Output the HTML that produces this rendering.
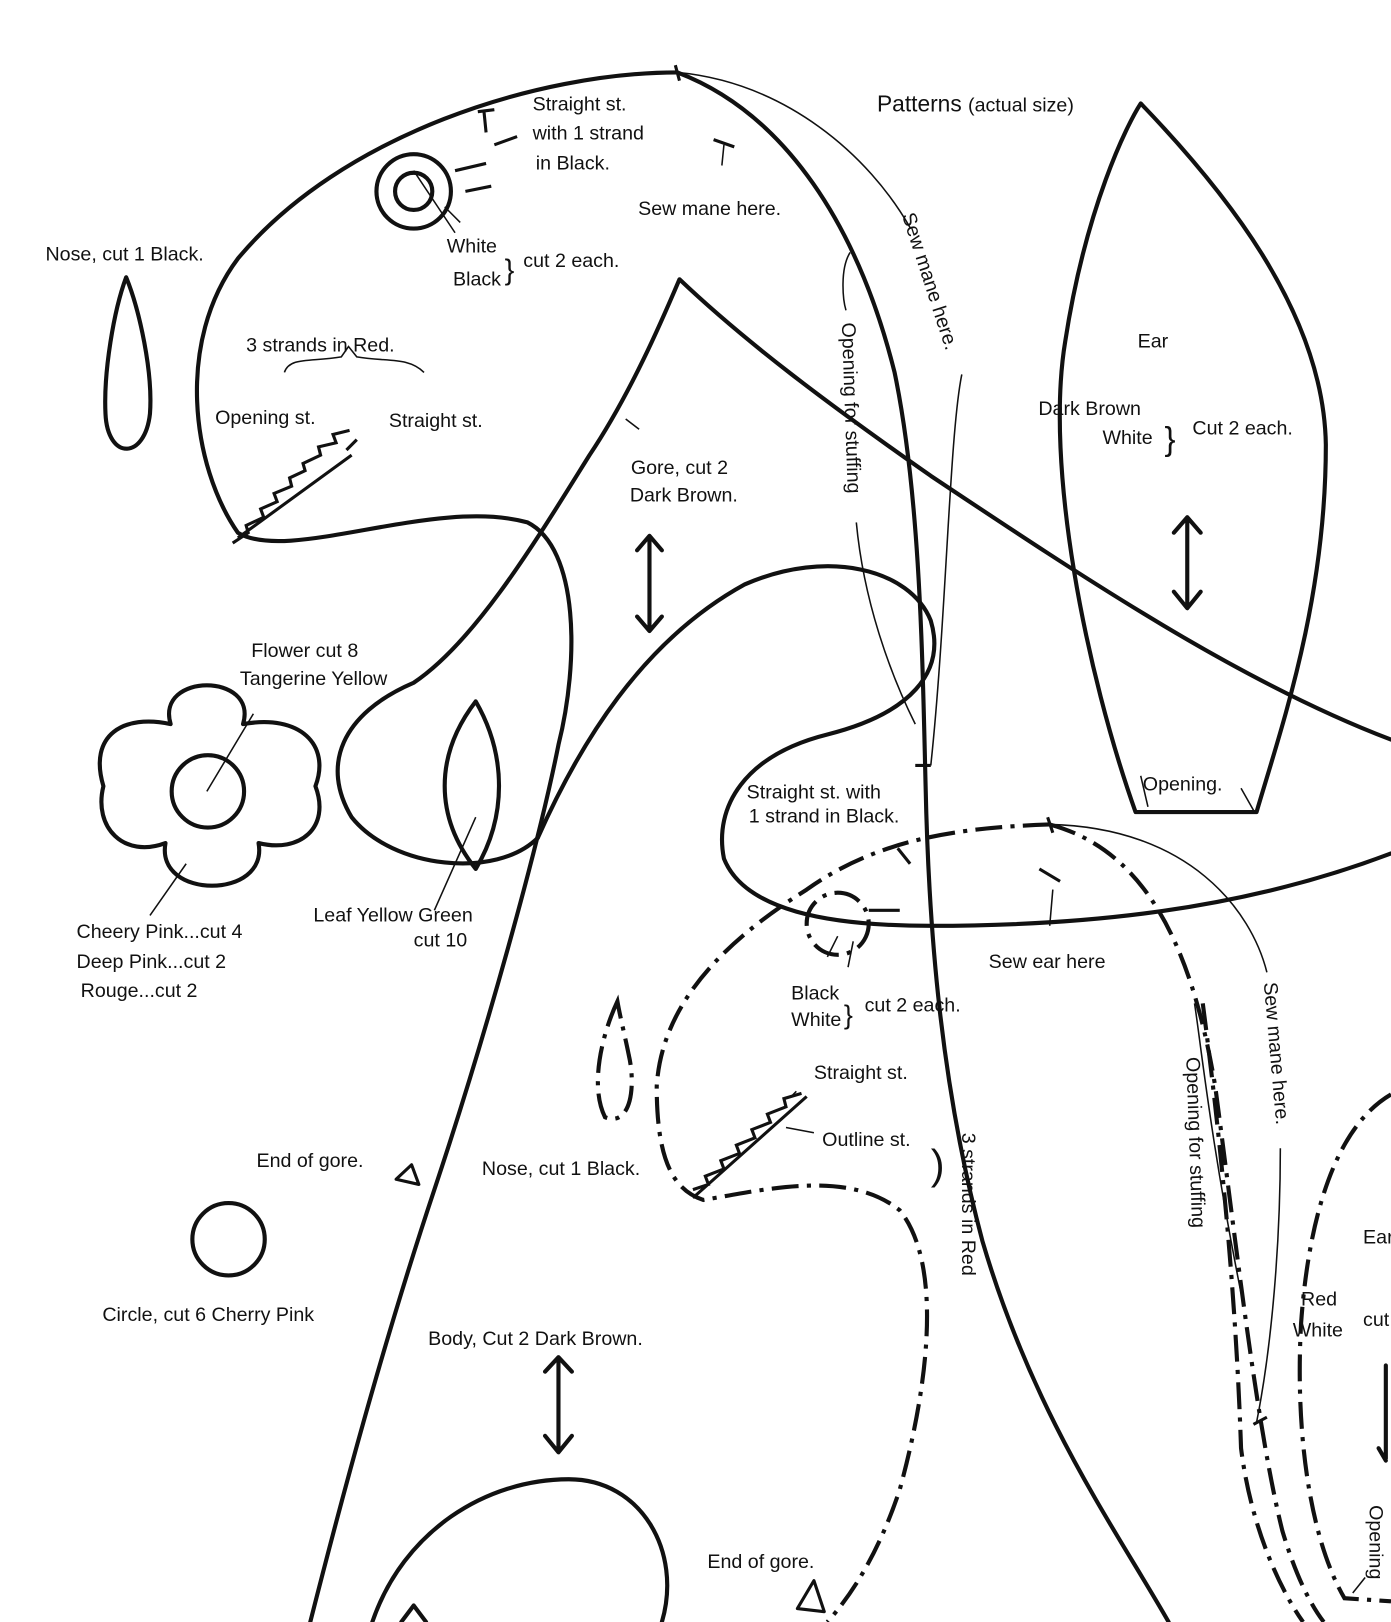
<!DOCTYPE html>
<html><head><meta charset="utf-8"><style>
html,body{margin:0;padding:0;background:#fff;}
svg{display:block;}
text{font-family:"Liberation Sans",sans-serif;fill:#111;}
</style></head><body>
<svg width="1391" height="1622" viewBox="0 0 1345 1568" preserveAspectRatio="none" xmlns="http://www.w3.org/2000/svg">
<rect width="1345" height="1568" fill="#fff"/>
<g fill="none" stroke="#111" stroke-width="4" stroke-linecap="round" stroke-linejoin="round">
<!-- head outline -->
<path d="M655,70 C520,70 330,130 230,250 C170,330 185,450 230,515 C280,545 420,480 510,505 C560,530 560,640 540,720 C520,820 470,1000 420,1150 C370,1300 330,1450 300,1568"/>
<!-- leaf loop & gore -->
<path d="M520,810 C480,850 380,840 340,790 C310,740 330,690 400,660 C460,620 520,520 570,440 C610,380 640,310 657,270 C720,330 800,390 900,460 C1050,560 1200,660 1345,715"/>
<!-- right side of head/neck -->
<path d="M655,70 C760,110 830,220 865,360 C890,480 892,640 895,760 C898,900 910,1050 950,1200 C1000,1370 1080,1480 1130,1568"/>
<!-- inner loop -->
<path d="M520,810 C560,720 620,620 720,565 C800,530 880,550 900,600 C915,650 880,690 800,710 C720,730 690,780 700,830 C720,880 800,895 900,895 C1050,895 1200,880 1345,825"/>
<!-- ear -->
<path d="M1098,785 C1050,650 1010,450 1030,330 C1050,200 1090,120 1103,100 C1180,180 1280,300 1282,430 C1282,580 1240,700 1215,785 Z"/>
<!-- nose -->
<path d="M122,268 C110,300 100,360 102,400 C104,445 140,445 145,400 C148,360 135,300 122,268 Z"/>
<!-- eye -->
<circle cx="400" cy="185" r="36"/>
<circle cx="400" cy="185" r="18"/>
<!-- flower -->
<path d="M165,700 C150,650 250,650 235,700 C290,690 320,720 305,760 C320,800 290,825 250,815 C260,870 150,870 160,815 C120,830 90,800 100,760 C85,710 120,690 165,700 Z"/>
<circle cx="201" cy="765" r="35"/>
<!-- leaf -->
<path d="M460,678 C420,730 420,790 460,840 C490,790 490,730 460,678 Z"/>
<!-- circle -->
<circle cx="221" cy="1198" r="35"/>
<!-- bottom body loop -->
<path d="M360,1568 C390,1480 470,1430 550,1430 C620,1430 660,1500 640,1568"/>
<!-- arrows -->
<path d="M628,520 L628,608 M616,532 L628,518 L640,532 M616,596 L628,610 L640,596"/>
<path d="M1148,500 L1148,585 M1135,515 L1148,500 L1161,515 M1135,572 L1148,588 L1161,572"/>
<path d="M540,1312 L540,1402 M527,1326 L540,1312 L553,1326 M527,1388 L540,1404 L553,1388"/>
<path d="M1340,1320 L1340,1410 M1333,1400 L1340,1412"/>
<!-- triangles -->
<path d="M383,1140 L398,1126 L405,1145 Z" stroke-width="3"/>
<path d="M771,1555 L787,1528 L797,1558 Z" stroke-width="3"/>
<path d="M388,1568 L400,1552 L412,1568"/>
</g>
<!-- dash-dot second head -->
<g fill="none" stroke="#111" stroke-width="4" stroke-dasharray="26,8,4,8" stroke-linecap="butt">
<path d="M1015,797 C930,800 850,810 780,860 C700,910 640,970 635,1050 C635,1120 650,1150 680,1160 C740,1150 820,1130 870,1170 C910,1220 900,1330 870,1440 C850,1500 825,1540 800,1568"/>
<path d="M1015,797 C1100,820 1150,900 1175,1050 C1195,1200 1215,1380 1240,1480 C1255,1530 1270,1555 1280,1568"/>
<path d="M1345,1058 C1290,1090 1265,1180 1258,1280 C1252,1390 1268,1490 1300,1545 L1345,1548"/>
<path d="M1163,970 C1180,1100 1195,1250 1200,1400 C1210,1480 1240,1540 1260,1568"/>
<path d="M597,968 C582,1000 570,1050 585,1080 C610,1090 615,1050 608,1020 C604,1000 600,985 597,968 Z"/>
<circle cx="810" cy="893" r="30"/>
</g>
<!-- thin leader lines -->
<g fill="none" stroke="#111" stroke-width="1.5">
<path d="M655,70 C760,80 840,150 880,220"/>
<path d="M930,362 C918,420 915,600 900,740"/>
<path d="M822,244 C812,260 815,290 818,300"/>
<path d="M828,505 C835,580 860,650 885,700"/>
<path d="M1015,797 C1150,800 1210,880 1225,940"/>
<path d="M1238,1110 C1238,1200 1230,1300 1215,1375"/>
<path d="M1155,970 C1160,1000 1170,1100 1200,1250"/>
<path d="M275,360 C280,345 300,350 330,345 L337,335 L345,345 C375,350 395,345 410,360"/>
<path d="M200,765 L245,690 M180,835 L145,885 M460,790 L420,880 M605,405 L618,415"/>
<path d="M400,165 L440,225 M430,200 L445,215 M700,140 L698,160"/>
<path d="M1103,750 L1110,780 M1200,762 L1213,785 M820,935 L825,910 M800,925 L810,905"/>
<path d="M787,1095 L760,1090 M770,1055 L765,1060"/>
<path d="M1015,895 L1018,860 M1308,1540 L1320,1525"/>
</g>
<!-- stitches -->
<g stroke="#111" stroke-width="3" fill="none">
<path d="M230,520 L340,440 M225,525 L240,515 L238,508 L255,500 L252,492 L268,485 L265,477 L282,470 L280,462 L295,455 L293,448 L310,440 L308,432 L325,428 L322,420 L338,416"/>
<path d="M335,435 L345,425 M468,108 L470,128 M462,108 L478,106 M478,140 L500,132 M440,165 L470,158 M450,185 L475,180"/>
<path d="M690,135 L710,142 M1005,840 L1025,852 M868,820 L880,835 M840,880 L870,880"/>
<path d="M670,1158 L780,1060 M670,1150 L685,1145 L682,1137 L700,1130 L697,1122 L715,1115 L712,1107 L730,1100 L727,1092 L745,1085 L742,1077 L760,1070 L758,1062 L775,1057"/>
<path d="M653,63 L657,78 M885,740 L900,740 M1013,790 L1018,805 M1212,1377 L1225,1370"/>
</g>
<!-- texts -->
<g font-size="19">
<text x="848" y="108" font-size="22">Patterns <tspan font-size="19">(actual size)</tspan></text>
<text x="515" y="107">Straight st.</text>
<text x="515" y="135">with 1 strand</text>
<text x="518" y="164">in Black.</text>
<text x="617" y="208">Sew mane here.</text>
<text x="44" y="252">Nose, cut 1 Black.</text>
<text x="432" y="244">White</text>
<text x="438" y="276">Black</text>
<text x="488" y="270" font-size="28">}</text>
<text x="506" y="258">cut 2 each.</text>
<text x="238" y="340">3 strands in Red.</text>
<text x="208" y="410">Opening st.</text>
<text x="376" y="413">Straight st.</text>
<text x="610" y="458">Gore, cut 2</text>
<text x="609" y="485">Dark Brown.</text>
<text x="1100" y="336">Ear</text>
<text x="1004" y="401">Dark Brown</text>
<text x="1066" y="429">White</text>
<text x="1126" y="435" font-size="32">}</text>
<text x="1153" y="420">Cut 2 each.</text>
<text x="243" y="635">Flower cut 8</text>
<text x="232" y="662">Tangerine Yellow</text>
<text x="1105" y="764">Opening.</text>
<text x="722" y="772">Straight st. with</text>
<text x="724" y="795">1 strand in Black.</text>
<text x="74" y="907">Cheery Pink...cut 4</text>
<text x="74" y="936">Deep Pink...cut 2</text>
<text x="78" y="964">Rouge...cut 2</text>
<text x="303" y="891">Leaf Yellow Green</text>
<text x="400" y="915">cut 10</text>
<text x="956" y="936">Sew ear here</text>
<text x="765" y="966">Black</text>
<text x="765" y="992">White</text>
<text x="816" y="990" font-size="26">}</text>
<text x="836" y="978">cut 2 each.</text>
<text x="787" y="1043">Straight st.</text>
<text x="795" y="1108">Outline st.</text>
<text x="248" y="1128">End of gore.</text>
<text x="466" y="1136">Nose, cut 1 Black.</text>
<text x="99" y="1277">Circle, cut 6 Cherry Pink</text>
<text x="414" y="1300">Body, Cut 2 Dark Brown.</text>
<text x="684" y="1516">End of gore.</text>
<text x="1318" y="1202">Ear</text>
<text x="1258" y="1262">Red</text>
<text x="1250" y="1292">White</text>
<text x="1318" y="1282">cut</text>
<text transform="translate(872,208) rotate(72)">Sew mane here.</text>
<text transform="translate(814,312) rotate(88)">Opening for stuffing</text>
<text transform="translate(1222,950) rotate(85)">Sew mane here.</text>
<text transform="translate(1147,1022) rotate(88)">Opening for stuffing</text>
<text transform="translate(930,1095) rotate(90)">3 strands in Red</text>
<text transform="translate(1324,1455) rotate(90)">Opening</text>
<text x="900" y="1140" font-size="40" font-weight="100">)</text>
</g>
</svg>
</body></html>
